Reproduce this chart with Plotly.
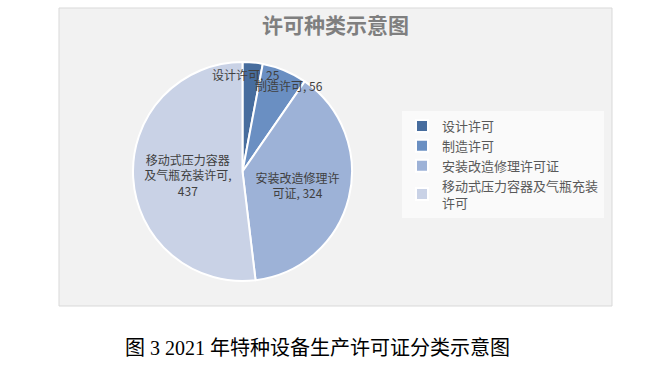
import plotly.graph_objects as go

categories = ["设计许可", "制造许可", "安装改造修理许可证", "移动式压力容器及气瓶充装许可"]
legend_labels = ["设计许可", "制造许可", "安装改造修理许可证", "移动式压力容器及气瓶充装<br>许可"]
values = [25, 56, 324, 437]
slice_text = ["", "", "安装改造修理许<br>可证, 324", "移动式压力容器<br>及气瓶充装许可,<br>437"]
colors = ["#476d9e", "#6a8fc2", "#9db2d7", "#c9d2e6"]

W, H = 667, 369
def px(x): return x / W
def py(y): return 1 - y / H

fig = go.Figure()
fig.add_trace(go.Pie(
    labels=legend_labels,
    values=values,
    text=slice_text,
    textinfo="text",
    textposition="inside",
    insidetextorientation="horizontal",
    sort=False,
    direction="clockwise",
    rotation=0,
    marker=dict(colors=colors, line=dict(color="#ffffff", width=2)),
    textfont=dict(family="Noto Sans CJK SC", size=12, color="#404040"),
    domain=dict(x=[px(120), px(365)], y=[py(281), py(62)]),
    hoverinfo="label+value",
))

lab_font = dict(family="Noto Sans CJK SC", size=12, color="#404040")
fig.add_annotation(text=f"{categories[0]}, {values[0]}", x=px(246), y=py(74), xref="paper", yref="paper",
                   xanchor="center", yanchor="middle", showarrow=False, font=lab_font)
fig.add_annotation(text=f"{categories[1]}, {values[1]}", x=px(289), y=py(85), xref="paper", yref="paper",
                   xanchor="center", yanchor="middle", showarrow=False, font=lab_font)

fig.add_annotation(text="<b>许可种类示意图</b>", x=px(335), y=py(24), xref="paper", yref="paper",
                   xanchor="center", yanchor="middle",
                   showarrow=False, font=dict(family="Noto Sans CJK SC", size=21, color="#7f7f7f"))

fig.add_annotation(text="图 3 2021 年特种设备生产许可证分类示意图", x=px(317), y=py(348), xref="paper", yref="paper",
                   xanchor="center", yanchor="middle",
                   showarrow=False, font=dict(family="Liberation Serif, Noto Sans CJK SC", size=20, color="#000000"))

fig.update_layout(
    width=W, height=H,
    margin=dict(l=0, r=0, t=0, b=0),
    paper_bgcolor="#ffffff",
    plot_bgcolor="#ffffff",
    showlegend=True,
    legend=dict(x=px(402), y=py(111), xanchor="left", yanchor="top",
                bgcolor="rgba(255,255,255,0.6)", font=dict(family="Noto Sans CJK SC", size=13, color="#595959"),
                itemclick=False),
    shapes=[dict(type="rect", xref="paper", yref="paper", x0=px(59), x1=px(612), y0=py(306), y1=py(8),
                 fillcolor="#f2f2f2", line=dict(color="#d9d9d9", width=1), layer="below")],
)

fig.write_html("out.html", config={"displayModeBar": False},
               post_script="document.body.style.margin='0px';")
